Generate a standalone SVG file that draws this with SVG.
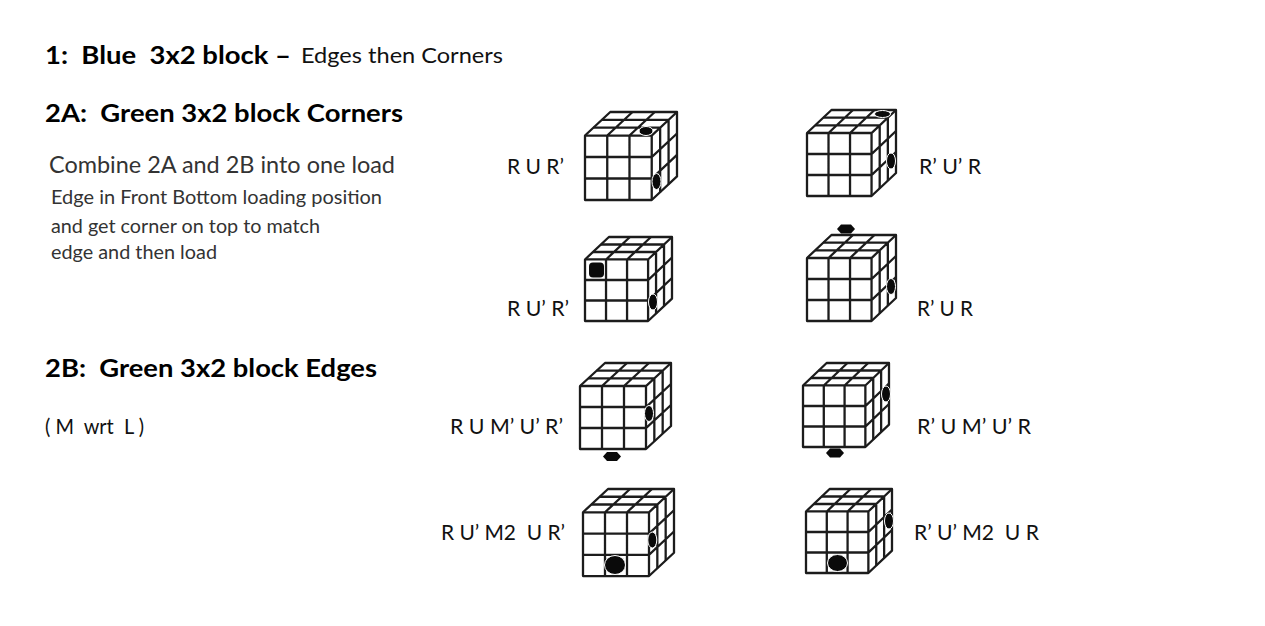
<svg xmlns="http://www.w3.org/2000/svg" width="1265" height="626" viewBox="0 0 1265 626">
<style>
text{font-family:"Lato","Open Sans","Liberation Sans",sans-serif;white-space:pre;fill:#000}
.h{font-size:25px;font-weight:700}
.l{font-size:21.5px;fill:#111}
.n{font-size:22.5px;fill:#333}
.s{font-size:19.5px;fill:#333}
.c{fill:#fff;stroke:#1c1c1c;stroke-width:2.3;stroke-linejoin:round;vector-effect:non-scaling-stroke}
.g{fill:none;stroke:#1c1c1c;stroke-width:2.3;vector-effect:non-scaling-stroke}
.d{fill:#0a0a0a}
.w{fill:#0a0a0a;stroke:#fff;stroke-width:1}
</style>
<defs>
<g id="cube">
<path class="c" d="M0 23L25 0H91V63L66 86H0Z"/>
<path class="g" d="M66 23V86M0 23H66L91 0M22 23V86M44 23V86M0 44H66L91 21M0 65H66L91 42M8.33 15.33H74.33V78.33M16.67 7.67H82.67V70.67M22 23L47 0M44 23L69 0"/>
</g>
<polygon id="hex" points="-9,0 -5,-4.5 5,-4.500 9,0 5,4.500 -5,4.500"/>
</defs>

<g id="titles">
<text class="h" x="45" y="64" textLength="246" lengthAdjust="spacingAndGlyphs">1:  Blue  3x2 block –</text>
<text class="l" x="301" y="63" textLength="202" lengthAdjust="spacingAndGlyphs">Edges then Corners</text>
<text class="h" x="45" y="122" textLength="358" lengthAdjust="spacingAndGlyphs">2A:  Green 3x2 block Corners</text>
<text class="h" x="45" y="377" textLength="332" lengthAdjust="spacingAndGlyphs">2B:  Green 3x2 block Edges</text>
<text class="n" x="49" y="173" textLength="346" lengthAdjust="spacingAndGlyphs">Combine 2A and 2B into one load</text>
<text class="s" x="51" y="204" textLength="331" lengthAdjust="spacingAndGlyphs">Edge in Front Bottom loading position</text>
<text class="s" x="51" y="233" textLength="269" lengthAdjust="spacingAndGlyphs">and get corner on top to match</text>
<text class="s" x="51" y="259" textLength="166" lengthAdjust="spacingAndGlyphs">edge and then load</text>
<text class="l" x="45" y="434" textLength="99" lengthAdjust="spacingAndGlyphs">( M  wrt  L )</text>
</g>

<g id="cube-1">
<use href="#cube" transform="translate(585 112) scale(1.011 1.023)"/>
<ellipse class="w" cx="646" cy="131" rx="7" ry="4.500"/>
<ellipse class="w" cx="656.500" cy="181.500" rx="4.500" ry="8"/>
<text class="l" x="507" y="174" textLength="57" lengthAdjust="spacingAndGlyphs">R U R’</text>
</g>
<g id="cube-2">
<use href="#cube" transform="translate(807 110) scale(.978 1)"/>
<ellipse class="w" cx="882.500" cy="114" rx="8" ry="3.500"/>
<ellipse class="w" cx="891" cy="161" rx="4.500" ry="8"/>
<text class="l" x="919" y="174" textLength="62" lengthAdjust="spacingAndGlyphs">R’ U’ R</text>
</g>
<g id="cube-3">
<use href="#cube" transform="translate(585 237) scale(.956 .977)"/>
<rect class="d" x="589" y="262.500" width="15" height="15" rx="4"/>
<ellipse class="w" cx="653" cy="302" rx="4.500" ry="8"/>
<text class="l" x="507" y="316" textLength="62" lengthAdjust="spacingAndGlyphs">R U’ R’</text>
</g>
<g id="cube-4">
<use href="#cube" transform="translate(807 235) scale(.978 1)"/>
<use class="d" href="#hex" x="846" y="229"/>
<ellipse class="w" cx="891" cy="286.500" rx="4.500" ry="8"/>
<text class="l" x="917" y="316" textLength="56" lengthAdjust="spacingAndGlyphs">R’ U R</text>
</g>
<g id="cube-5">
<use href="#cube" transform="translate(580 363) scale(1 1)"/>
<use class="d" href="#hex" x="612" y="456.500"/>
<ellipse class="w" cx="649" cy="413.500" rx="4.500" ry="8"/>
<text class="l" x="450" y="434" textLength="113" lengthAdjust="spacingAndGlyphs">R U M’ U’ R’</text>
</g>
<g id="cube-6">
<use href="#cube" transform="translate(803 363) scale(.945 .977)"/>
<use class="d" href="#hex" x="835" y="453"/>
<ellipse class="w" cx="886" cy="394" rx="4.500" ry="8"/>
<text class="l" x="917" y="434" textLength="114" lengthAdjust="spacingAndGlyphs">R’ U M’ U’ R</text>
</g>
<g id="cube-7">
<use href="#cube" transform="translate(583 489) scale(1 1.012)"/>
<ellipse class="w" cx="615" cy="565" rx="10.500" ry="9.500"/>
<ellipse class="w" cx="652.300" cy="540" rx="4.500" ry="8"/>
<text class="l" x="441" y="540" textLength="124" lengthAdjust="spacingAndGlyphs">R U’ M2  U R’</text>
</g>
<g id="cube-8">
<use href="#cube" transform="translate(806 489) scale(.945 .977)"/>
<ellipse class="w" cx="837.500" cy="563" rx="10" ry="8.500"/>
<ellipse class="w" cx="889" cy="521" rx="4.500" ry="8"/>
<text class="l" x="914" y="540" textLength="125" lengthAdjust="spacingAndGlyphs">R’ U’ M2  U R</text>
</g>
</svg>
